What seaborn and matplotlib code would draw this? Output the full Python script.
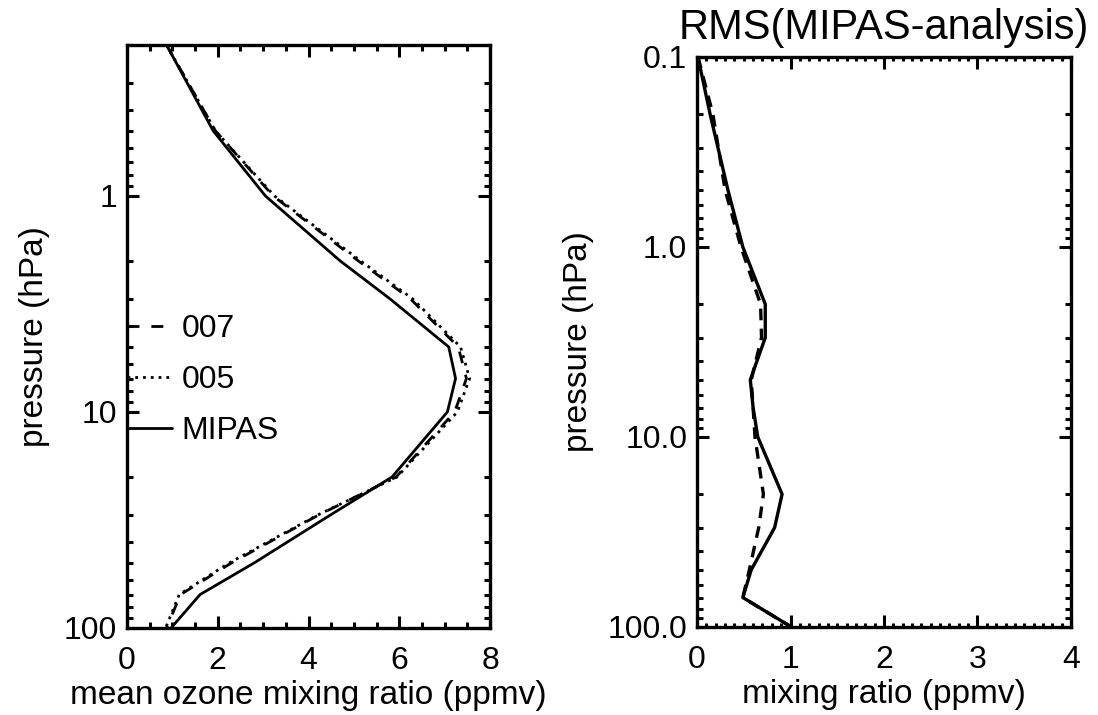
import matplotlib
matplotlib.use("Agg")
import matplotlib.pyplot as plt
from matplotlib.ticker import MultipleLocator, LogLocator, NullFormatter
import seaborn as sns

# pressure levels (hPa) for the mean profiles
p_mean = [0.2, 0.5, 1, 2, 3, 5, 7, 10, 20, 30, 50, 70, 100]
# mean ozone mixing ratio (ppmv)
mipas_mean = [0.87, 1.90, 3.05, 4.70, 5.80, 7.09, 7.24, 7.06, 5.84, 4.48, 2.80, 1.61, 0.97]
an005_mean = [0.87, 1.95, 3.25, 5.15, 6.30, 7.35, 7.55, 7.28, 5.95, 4.20, 2.25, 1.15, 0.85]
an007_mean = [0.87, 1.95, 3.22, 5.10, 6.25, 7.30, 7.48, 7.22, 5.93, 4.22, 2.30, 1.18, 0.87]

# pressure levels (hPa) for the RMS profiles
p_rms = [0.1, 0.2, 0.5, 1, 2, 3, 5, 7, 10, 20, 30, 50, 70, 100]
rms_005 = [0.01, 0.14, 0.33, 0.49, 0.73, 0.73, 0.57, 0.60, 0.65, 0.91, 0.83, 0.58, 0.49, 1.01]
rms_007 = [0.01, 0.17, 0.30, 0.47, 0.68, 0.69, 0.58, 0.60, 0.62, 0.71, 0.66, 0.56, 0.49, 1.01]

sns.set_style("ticks")
plt.rcParams['font.family'] = ['Liberation Sans', 'DejaVu Sans']
plt.rcParams['axes.linewidth'] = 2.4
plt.rcParams['text.color'] = 'black'
plt.rcParams['axes.labelcolor'] = 'black'
plt.rcParams['xtick.color'] = 'black'
plt.rcParams['ytick.color'] = 'black'

fs_tick = 23
fs_lab = 24

fig = plt.figure(figsize=(10.98, 7.15), dpi=100)
ax1 = fig.add_axes([0.1157, 0.1217, 0.3306, 0.8154])
ax2 = fig.add_axes([0.6348, 0.1231, 0.3406, 0.7972])

# left panel: mean profiles
sns.lineplot(x=an007_mean, y=p_mean, sort=False, estimator=None, ax=ax1,
             color='black', lw=2.0, linestyle=(0, (4.3, 4.3)), label='007')
sns.lineplot(x=an005_mean, y=p_mean, sort=False, estimator=None, ax=ax1,
             color='black', lw=2.0, linestyle=(0, (1, 1.8)), label='005')
sns.lineplot(x=mipas_mean, y=p_mean, sort=False, estimator=None, ax=ax1,
             color='black', lw=2.0, linestyle='-', label='MIPAS')

ax1.set_yscale('log')
ax1.set_ylim(100, 0.2)
ax1.set_xlim(0, 8)
ax1.set_xticks([0, 2, 4, 6, 8])
ax1.xaxis.set_minor_locator(MultipleLocator(0.5))
ax1.set_yticks([1, 10, 100])
ax1.set_yticklabels(['1', '10', '100'])
ax1.yaxis.set_minor_locator(LogLocator(base=10, subs=range(2, 10)))
ax1.yaxis.set_minor_formatter(NullFormatter())
ax1.set_xlabel('mean ozone mixing ratio (ppmv)', fontsize=fs_lab, labelpad=3)
ax1.set_ylabel('pressure (hPa)', fontsize=fs_lab, labelpad=10)
ax1.legend(loc='center left', bbox_to_anchor=(0, 0.425), frameon=False,
           fontsize=fs_tick, borderpad=0, borderaxespad=0, handlelength=1.4,
           handletextpad=0.3, labelspacing=0.65)

# right panel: RMS profiles
sns.lineplot(x=rms_007, y=p_rms, sort=False, estimator=None, ax=ax2,
             color='black', lw=2.4, linestyle=(0, (3.5, 2.5)))
sns.lineplot(x=rms_005, y=p_rms, sort=False, estimator=None, ax=ax2,
             color='black', lw=2.4, linestyle='-')

ax2.set_yscale('log')
ax2.set_ylim(100, 0.1)
ax2.set_xlim(0, 4)
ax2.set_xticks([0, 1, 2, 3, 4])
ax2.xaxis.set_minor_locator(MultipleLocator(0.1))
ax2.set_yticks([0.1, 1, 10, 100])
ax2.set_yticklabels(['0.1', '1.0', '10.0', '100.0'])
ax2.yaxis.set_minor_locator(LogLocator(base=10, subs=range(2, 10)))
ax2.yaxis.set_minor_formatter(NullFormatter())
ax2.set_xlabel('mixing ratio (ppmv)', fontsize=fs_lab, labelpad=3)
ax2.set_ylabel('pressure (hPa)', fontsize=fs_lab, labelpad=10)
ax2.set_title('RMS(MIPAS-analysis)', fontsize=30, pad=13)

for ax in (ax1, ax2):
    ax.tick_params(which='both', direction='in', top=True, right=True,
                   width=2.2, colors='black', labelsize=fs_tick)
    ax.tick_params(axis='x', which='both', pad=13)
    ax.tick_params(axis='y', which='both', pad=7)
    ax.tick_params(which='major', length=8.5)
    ax.tick_params(which='minor', length=4.3)
    for s in ax.spines.values():
        s.set_visible(True)
        s.set_color('black')
ax2.tick_params(axis='x', which='minor', length=3)

fig.savefig('out.png', dpi=100)
